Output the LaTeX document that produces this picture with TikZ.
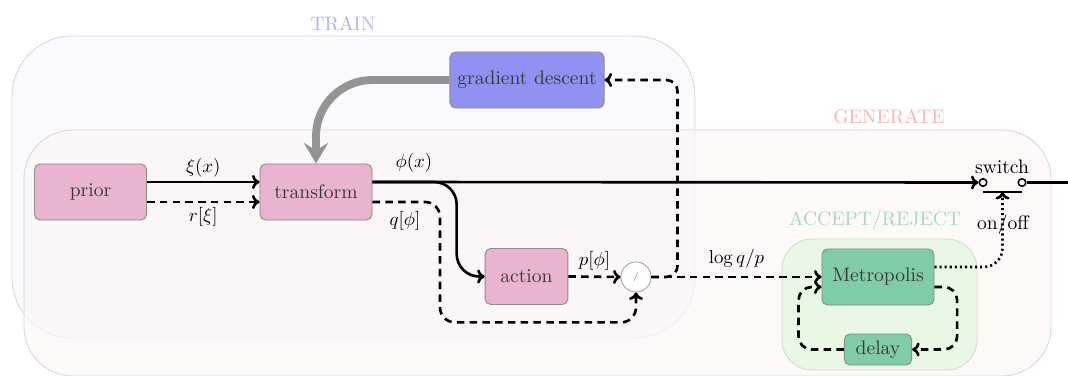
\documentclass[tikz,border=0pt]{standalone}
\usetikzlibrary{arrows.meta,calc}
\definecolor{pinkf}{RGB}{232,180,208}
\definecolor{bluef}{RGB}{145,145,242}
\definecolor{greenf}{RGB}{127,204,167}
\definecolor{trainc}{RGB}{176,176,250}
\definecolor{genc}{RGB}{245,180,180}
\definecolor{accc}{RGB}{165,218,185}
\definecolor{trainfill}{RGB}{249,249,254}
\definecolor{genfill}{RGB}{252,247,246}
\definecolor{accfill}{RGB}{234,247,228}
\begin{document}
\begin{tikzpicture}[x=0.532pt,y=-0.532pt,
  font=\fontsize{10.4pt}{12pt}\selectfont,
  blk/.style={draw=black!45, line width=0.5pt, rounded corners=3pt, inner sep=0pt, text=black!78},
  pinkblk/.style={blk, fill=pinkf, minimum width=59.6pt, minimum height=29.8pt},
  greenblk/.style={blk, fill=greenf},
  arr/.style={line width=1.4pt, line join=round, -{Computer Modern Rightarrow[length=4pt,width=7.5pt]}},
  darr/.style={arr, dash pattern=on 4pt off 2.8pt},
  dotarr/.style={arr, dash pattern=on 1.1pt off 1.6pt},
  grp/.style={draw=black!15, line width=0.5pt},
  swc/.style={circle, draw, line width=0.8pt, minimum size=4pt, inner sep=0pt, fill=white},
  lbl/.style={inner sep=1pt}
]
\useasboundingbox (0,0) rectangle (1068,376);
% group boxes
\draw[grp, fill=trainfill, rounded corners=32pt] (12,36) rectangle (695,338);
\draw[grp, fill=genfill, fill opacity=0.7, rounded corners=26pt] (24,130) rectangle (1051,376);
\draw[grp, fill=accfill, rounded corners=16pt] (782,239) rectangle (977,370);
\node[text=trainc] (trainlbl) at (343,24) {TRAIN};
\node[text=genc] (genlbl) at (889,117) {GENERATE};
\node[text=accc] (acclbl) at (875,221) {ACCEPT/REJECT};
% nodes
\node[pinkblk] (prior) at (90.5,192) {prior};
\node[pinkblk] (transform) at (316,192) {transform};
\node[blk, fill=bluef, minimum width=82pt, minimum height=29.8pt] (gd) at (527,80) {gradient descent};
\node[pinkblk, minimum width=44pt] (action) at (526.5,276.5) {action};
\node[circle, draw=black!40, fill=white, minimum size=16pt, inner sep=0pt, text=black!50, font=\tiny] (div) at (636,277) {/};
\node[greenblk, minimum width=59.6pt, minimum height=29.8pt] (metro) at (878,277) {Metropolis};
\node[greenblk, minimum width=35.8pt, minimum height=16.5pt] (delay) at (878,349.5) {delay};
\node[swc] (sw1) at (983,182.5) {};
\node[swc] (sw2) at (1022,182.5) {};
\coordinate (barL) at (983,192);
\coordinate (barR) at (1022,192);
\coordinate (barM) at (1002.5,192);
\coordinate (out) at (1068,182.5);
\node[lbl] (swlbl) at (1002,167) {switch};
\node[lbl] (onoff) at (1003,225) {on/off};
% gray feedback
\draw[line width=4.2pt, black!42, rounded corners=30pt, -{Stealth[length=11pt,width=13pt,inset=4pt]}] (gd.west) -| (transform.north);
% prior -> transform
\draw[arr] ($(prior.east)+(0,-10)$) -- node[lbl, above=1pt]{$\xi(x)$} ($(transform.west)+(0,-10)$);
\draw[darr] ($(prior.east)+(0,10)$) -- node[lbl, below=1pt]{$r[\xi]$} ($(transform.west)+(0,10)$);
% main line
\draw[arr] ($(transform.east)+(0,-10)$) -- (sw1.west);
\node[lbl] (philbl) at (414,163) {$\phi(x)$};
\draw[line width=1.4pt] (sw2.east) -- (out);
\draw[line width=0.8pt] (barL) -- (barR);
% branch to action
\draw[arr, rounded corners=12pt] ($(transform.east)+(0,-10)$) -| ($(action.west)+(-28,0)$) -- (action.west);
% q path
\draw[darr, rounded corners=8pt] ($(transform.east)+(0,10)$) -| ($(div.south)+(-196,30)$) -| (div.south);
\node[lbl] (qlbl) at (405,221) {$q[\phi]$};
% action -> div
\draw[darr] (action.east) -- node[lbl, above=2pt]{$p[\phi]$} (div.west);
% div -> metropolis
\draw[darr] (div.east) -- node[lbl, above=3pt]{$\log q/p$} (metro.west);
% div -> gradient descent
\draw[darr, rounded corners=6pt] (div.east) -| ($(gd.east)+(73,0)$) -- (gd.east);
% metropolis loop
\draw[darr, rounded corners=7pt] ($(metro.east)+(0,10)$) -| ($(delay.east)+(45,0)$) -- (delay.east);
\draw[darr, rounded corners=7pt] (delay.west) -| ($(metro.west)+(-23,10)$) -- ($(metro.west)+(0,10)$);
% metropolis -> switch
\draw[dotarr, rounded corners=10pt] ($(metro.east)+(0,-10)$) -| (barM);
\end{tikzpicture}
\end{document}
